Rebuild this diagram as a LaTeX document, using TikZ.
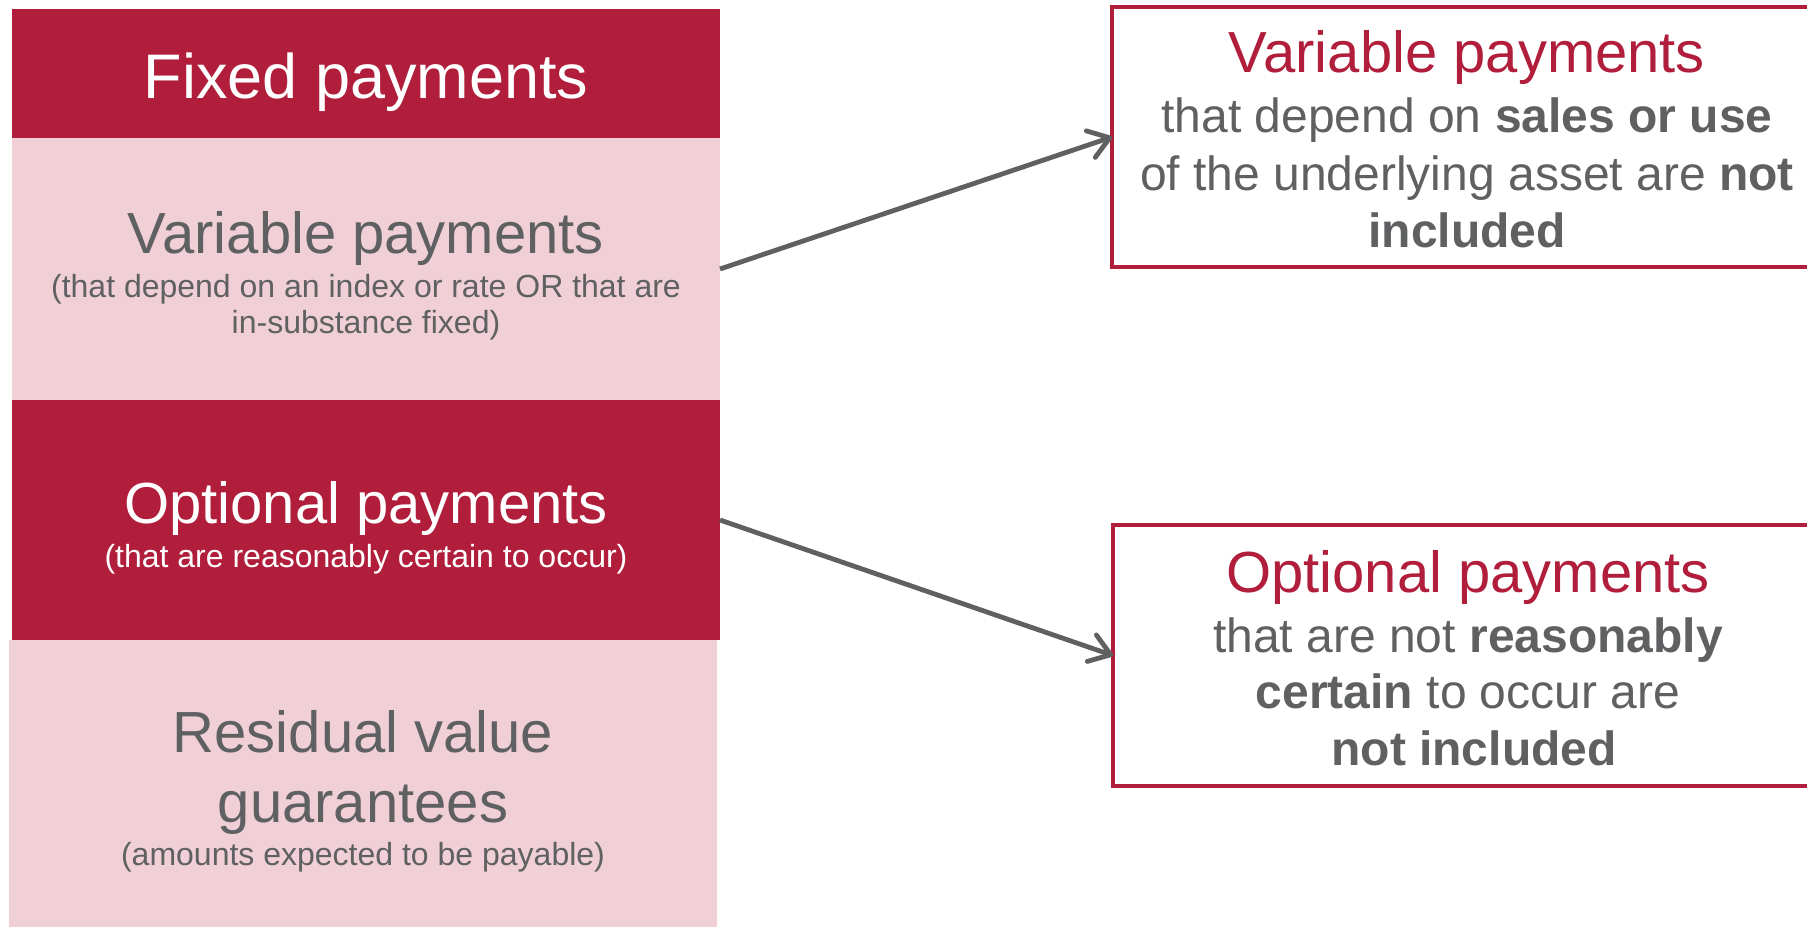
\documentclass[tikz,border=0pt]{standalone}
\usepackage{fontspec}
\setmainfont{Liberation Sans}
\usetikzlibrary{arrows.meta}
\definecolor{lease_red}{RGB}{177,30,59}
\definecolor{lease_pink}{RGB}{240,208,214}
\definecolor{lease_gray}{RGB}{95,96,98}

\begin{document}
\begin{tikzpicture}[x=0.5pt, y=-0.5pt,
   box_style/.style={rectangle, anchor=north west, inner sep=0pt, outer sep=0pt, minimum width=354pt},
   box_dark/.style={box_style, fill=lease_red},
   box_light/.style={box_style, fill=lease_pink},
   box_out/.style={box_style, draw=lease_red, line width=2pt, fill=white, minimum width=355pt},
   head_txt/.style={anchor=base, text=white, font=\fontsize{31.5}{38}\selectfont},
   title_txt/.style={anchor=base, font=\fontsize{29}{35}\selectfont},
   sub_txt/.style={anchor=base, font=\fontsize{16}{19}\selectfont},
   body_txt/.style={anchor=base, text=lease_gray, font=\fontsize{24}{29}\selectfont},
   edge_style/.style={draw=lease_gray, line width=2.4pt, -{Straight Barb[length=10pt, width=14pt, round]}}]
	\useasboundingbox (0,0) rectangle (1807,926);

	% left column
	\node [box_dark, minimum height=64.5pt] (fixed) at (12,9) {};
	\node [box_light, minimum height=131pt] (varl) at (12,138) {};
	\node [box_dark, minimum height=120pt] (optl) at (12,400) {};
	\node [box_light, minimum height=145pt] (resid) at (9,640) {};

	\node [head_txt] (fixed_t) at (366,98) {Fixed payments};
	\node [title_txt, text=lease_gray] (varl_t) at (366,253) {Variable payments};
	\node [sub_txt, text=lease_gray] (varl_s1) at (366,297) {(that depend on an index or rate OR that are};
	\node [sub_txt, text=lease_gray] (varl_s2) at (366,333) {in-substance fixed)};
	\node [title_txt, text=white] (optl_t) at (366,523) {Optional payments};
	\node [sub_txt, text=white] (optl_s) at (366,567) {(that are reasonably certain to occur)};
	\node [title_txt, text=lease_gray] (resid_t1) at (363,752) {Residual value};
	\node [title_txt, text=lease_gray] (resid_t2) at (363,822) {guarantees};
	\node [sub_txt, text=lease_gray] (resid_s) at (363,865) {(amounts expected to be payable)};

	% right column
	\node [box_out, minimum height=130pt] (varr) at (1112,7) {};
	\node [box_out, minimum height=130.5pt] (optr) at (1113,525) {};

	\node [title_txt, text=lease_red] (varr_t) at (1467,72) {Variable payments};
	\node [body_txt] (varr_b1) at (1467,132) {that depend on \textbf{sales or use}};
	\node [body_txt] (varr_b2) at (1467,190) {of the underlying asset are \textbf{not}};
	\node [body_txt] (varr_b3) at (1467,247) {\textbf{included}};
	\node [title_txt, text=lease_red] (optr_t) at (1468,592) {Optional payments};
	\node [body_txt] (optr_b1) at (1468,652) {that are not \textbf{reasonably}};
	\node [body_txt] (optr_b2) at (1468,708) {\textbf{certain} to occur are};
	\node [body_txt] (optr_b3) at (1474,765) {\textbf{not included}};

	\foreach \from/\to in {varl/varr, optl/optr}
	  \draw [edge_style] (\from.east) -- (\to.west);

\end{tikzpicture}
\end{document}
